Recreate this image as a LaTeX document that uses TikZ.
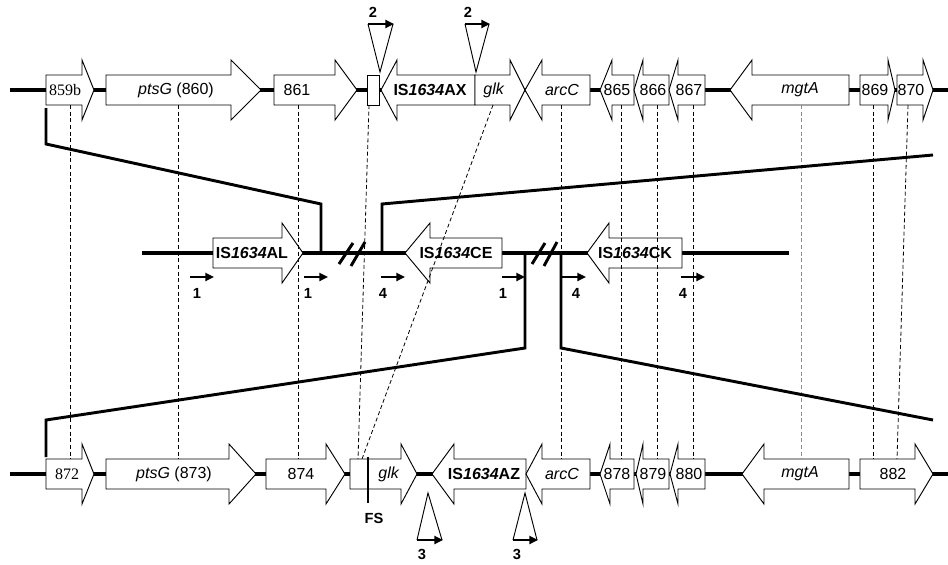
\documentclass[tikz,border=0pt]{standalone}
\usepackage{fontspec}
\setmainfont{Liberation Sans}
\newfontfamily\tnr{Liberation Serif}
\usetikzlibrary{arrows.meta}
\newcommand\RArr[4]{\draw[genebox] (#1,#4-15) -- (#2,#4-15) -- (#2,#4-30) -- (#3,#4) -- (#2,#4+30) -- (#2,#4+15) -- (#1,#4+15) -- cycle;}
\newcommand\LArr[4]{\draw[genebox] (#1,#4) -- (#2,#4-30) -- (#2,#4-15) -- (#3,#4-15) -- (#3,#4+15) -- (#2,#4+15) -- (#2,#4+30) -- cycle;}
\begin{document}
\begin{tikzpicture}[x=0.75pt,y=-0.75pt,
 genebox/.style={draw=black,fill=white,line width=0.7pt,line join=miter},
 backbone/.style={line width=3.2pt,black},
 link/.style={line width=2.2pt,line join=miter},
 guide/.style={line width=0.6pt,dash pattern=on 3pt off 2pt},
 guidegray/.style={guide,draw=black!45},
 lab/.style={font=\fontsize{12}{14}\selectfont,inner sep=0pt},
 islab/.style={font=\fontsize{12}{14}\selectfont\bfseries,inner sep=0pt},
 numlab/.style={font=\fontsize{12}{14}\selectfont\tnr,inner sep=0pt},
 plab/.style={font=\fontsize{11}{13}\selectfont\bfseries,inner sep=0pt},
 primer/.style={line width=2.2pt,-{Triangle[length=6.5pt,width=6pt]}},
 tri/.style={line width=0.7pt,line join=miter}
]
\useasboundingbox (0,0) rectangle (948,564);
% ---------- top row ----------
\draw[backbone] (10,90) -- (948,90);
\RArr{46}{82}{94}{90}
\RArr{106}{231}{261}{90}
\RArr{274}{335}{357}{90}
\draw[genebox] (367,75) rectangle (379,105);
\LArr{381}{397}{475}{90}
\RArr{475}{510}{525}{90}
\LArr{525}{542}{590}{90}
\LArr{600}{612}{634}{90}
\LArr{634}{643}{669}{90}
\LArr{669}{678}{705}{90}
\LArr{730}{752}{849}{90}
\RArr{860}{888}{895}{90}
\RArr{897}{923}{933}{90}
\node[numlab] (t859b) at (65,90) {859b};
\node[lab] (tptsG) at (176,90) {\textit{ptsG} (860)};
\node[lab] (t861) at (297,90) {861};
\node[islab] (tAX) at (430,90) {IS\textit{1634}AX};
\node[lab] (tglk) at (494,90) {\textit{glk}};
\node[lab] (tarcC) at (562,90) {\textit{arcC}};
\node[lab] (t865) at (617,90) {865};
\node[lab] (t866) at (653,90) {866};
\node[lab] (t867) at (689,90) {867};
\node[lab] (tmgtA) at (800,90) {\textit{mgtA}};
\node[lab] (t869) at (875,90) {869};
\node[lab] (t870) at (911,90) {870};
% ---------- bottom row ----------
\draw[backbone] (10,474) -- (948,474);
\RArr{46}{82}{94}{474}
\RArr{106}{229}{256}{474}
\RArr{266}{326}{345}{474}
\RArr{350}{401}{417}{474}
\LArr{432}{454}{526}{474}
\LArr{526}{542}{590}{474}
\LArr{600}{610}{634}{474}
\LArr{636}{643}{669}{474}
\LArr{670}{678}{705}{474}
\LArr{742}{764}{849}{474}
\RArr{860}{915}{933}{474}
\node[numlab] (b872) at (67,474) {872};
\node[lab] (bptsG) at (174,474) {\textit{ptsG} (873)};
\node[lab] (b874) at (301,474) {874};
\node[lab] (bglk) at (389,474) {\textit{glk}};
\node[islab] (bAZ) at (484,474) {IS\textit{1634}AZ};
\node[lab] (barcC) at (562,474) {\textit{arcC}};
\node[lab] (b878) at (617,474) {878};
\node[lab] (b879) at (653,474) {879};
\node[lab] (b880) at (689,474) {880};
\node[lab] (bmgtA) at (800,474) {\textit{mgtA}};
\node[lab] (b882) at (893,474) {882};
% ---------- middle row ----------
\draw[backbone] (142,253) -- (789,253);
\RArr{213}{282}{303}{253}
\LArr{405}{430}{502}{253}
\LArr{587}{609}{682}{253}
\node[islab] (mAL) at (252,253) {IS\textit{1634}AL};
\node[islab] (mCE) at (456,253) {IS\textit{1634}CE};
\node[islab] (mCK) at (635,253) {IS\textit{1634}CK};
\draw[link] (339,264) -- (353,243);
\draw[link] (351,266) -- (365,242);
\draw[link] (532,264) -- (545,243);
\draw[link] (544,266) -- (557,242);
% ---------- dashed guides ----------
\foreach \xa/\xb in {70/70,178/178,298/298,369/358,493/362,561/561,621/621,657/657,693/693,873/873,908/897}
  {\coordinate (ga) at (\xa,105); \coordinate (gb) at (\xb,459); \draw[guide] (ga) -- (gb);}
\coordinate (gma) at (801,105); \coordinate (gmb) at (801,459);
\draw[guidegray] (gma) -- (gmb);
% ---------- connectors ----------
\coordinate (c1a) at (46,108); \coordinate (c1b) at (321,253);
\draw[link] (c1a) -- (46,144) -- (321,204) -- (c1b);
\coordinate (c2a) at (382,253); \coordinate (c2b) at (933,155);
\draw[link] (c2a) -- (382,204) -- (c2b);
\coordinate (c3a) at (525,253); \coordinate (c3b) at (46,457);
\draw[link] (c3a) -- (525,348) -- (46,420) -- (c3b);
\coordinate (c4a) at (561,253); \coordinate (c4b) at (933,420);
\draw[link] (c4a) -- (561,348) -- (c4b);
% ---------- primers ----------
\foreach \xa/\xb/\xl/\t in {190/214/197/1,304/328/308/1,381/405/383/4,502/525/503/1,562/586/576/4,681/705/683/4}
  {\coordinate (pa) at (\xa,277); \coordinate (pb) at (\xb,277); \draw[primer] (pa) -- (pb);
   \node[plab] at (\xl,293) {\t};}
% ---------- insertion triangles ----------
\draw[tri] (368,24) -- (380,72) -- (393,24);
\draw[primer] (368,24) -- (394,24);
\node[plab] (i2a) at (373,12) {2};
\draw[tri] (465,24) -- (476,72) -- (489,24);
\draw[primer] (465,24) -- (490,24);
\node[plab] (i2b) at (468,12) {2};
\draw[tri] (417,540) -- (428,493) -- (442,540);
\draw[primer] (417,540) -- (443,540);
\node[plab] (i3a) at (422,554) {3};
\draw[tri] (513,540) -- (525,493) -- (537,540);
\draw[primer] (513,540) -- (538,540);
\node[plab] (i3b) at (517,554) {3};
% ---------- FS ----------
\draw[link] (368,457) -- (368,503);
\node[plab] (fs) at (374,518) {FS};
\end{tikzpicture}
\end{document}
